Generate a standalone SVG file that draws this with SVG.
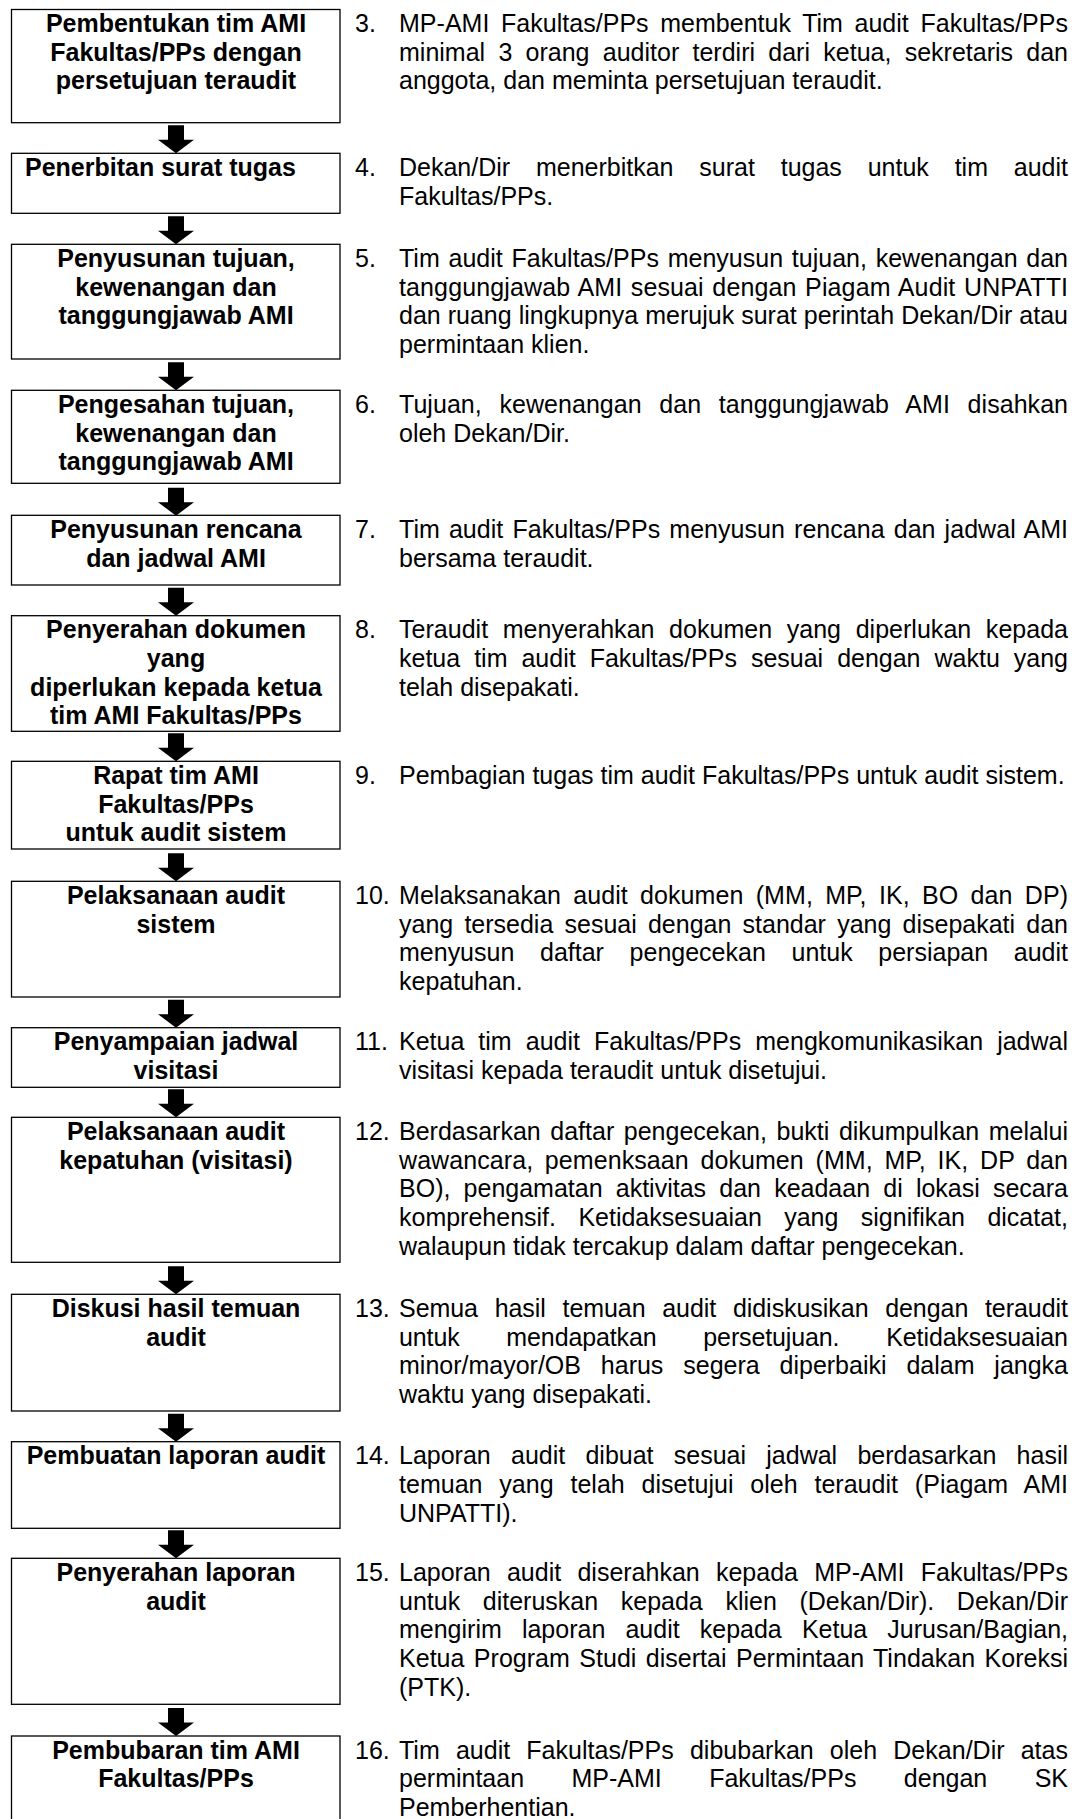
<svg xmlns="http://www.w3.org/2000/svg" xmlns:xlink="http://www.w3.org/1999/xlink" width="1075" height="1819" viewBox="0 0 1075 1819">
  <defs>
    <style>
      .box { fill: #fff; stroke: #000; stroke-width: 1.3; }
      .lbl { font-family: "Liberation Sans", Arial, sans-serif; font-size: 25px; font-weight: bold; text-anchor: middle; fill: #000; }
      .lbl-l { font-family: "Liberation Sans", Arial, sans-serif; font-size: 25px; font-weight: bold; fill: #000; }
      .num, .txt { font-family: "Liberation Sans", Arial, sans-serif; font-size: 25px; fill: #000; }
      .arrow { fill: #000; }
    </style>
    <!-- block arrow, origin at top centre of the shaft -->
    <path id="down-arrow" class="arrow" d="M-8,0 H8 V14.5 H18 L0,28 L-18,14.5 H-8 Z"/>
  </defs>

  <rect x="0" y="0" width="1075" height="1819" fill="#fff"/>

  <g id="connectors">
    <use xlink:href="#down-arrow" x="176" y="125.3"/>
    <use xlink:href="#down-arrow" x="176" y="216.3"/>
    <use xlink:href="#down-arrow" x="176" y="362.3"/>
    <use xlink:href="#down-arrow" x="176" y="487.7"/>
    <use xlink:href="#down-arrow" x="176" y="587.7"/>
    <use xlink:href="#down-arrow" x="176" y="733.3"/>
    <use xlink:href="#down-arrow" x="176" y="853.3"/>
    <use xlink:href="#down-arrow" x="176" y="999.7"/>
    <use xlink:href="#down-arrow" x="176" y="1089.3"/>
    <use xlink:href="#down-arrow" x="176" y="1266.3"/>
    <use xlink:href="#down-arrow" x="176" y="1413.7"/>
    <use xlink:href="#down-arrow" x="176" y="1530.3"/>
    <use xlink:href="#down-arrow" x="176" y="1708"/>
  </g>

  <g id="step-3">
    <rect class="box" x="11.5" y="9.5" width="328.5" height="113.2"/>
    <text class="lbl" x="176" y="32">Pembentukan tim AMI</text>
    <text class="lbl" x="176" y="60.7">Fakultas/PPs dengan</text>
    <text class="lbl" x="176" y="89.4">persetujuan teraudit</text>
    <text class="num" x="355" y="32">3.</text>
    <text class="txt" x="399" y="32" textLength="669" lengthAdjust="spacing" style="word-spacing:4.59px">MP-AMI Fakultas/PPs membentuk Tim audit Fakultas/PPs</text>
    <text class="txt" x="399" y="60.7" textLength="669" lengthAdjust="spacing" style="word-spacing:6.34px">minimal 3 orang auditor terdiri dari ketua, sekretaris dan</text>
    <text class="txt" x="399" y="89.4">anggota, dan meminta persetujuan teraudit.</text>
  </g>

  <g id="step-4">
    <rect class="box" x="11.5" y="153.3" width="328.5" height="60"/>
    <text class="lbl-l" x="25" y="175.8">Penerbitan surat tugas</text>
    <text class="num" x="355" y="175.8">4.</text>
    <text class="txt" x="399" y="175.8" textLength="669" lengthAdjust="spacing" style="word-spacing:18.87px">Dekan/Dir menerbitkan surat tugas untuk tim audit</text>
    <text class="txt" x="399" y="204.5">Fakultas/PPs.</text>
  </g>

  <g id="step-5">
    <rect class="box" x="11.5" y="244.3" width="328.5" height="114.7"/>
    <text class="lbl" x="176" y="266.8">Penyusunan tujuan,</text>
    <text class="lbl" x="176" y="295.5">kewenangan dan</text>
    <text class="lbl" x="176" y="324.2">tanggungjawab AMI</text>
    <text class="num" x="355" y="266.8">5.</text>
    <text class="txt" x="399" y="266.8" textLength="669" lengthAdjust="spacing" style="word-spacing:1.73px">Tim audit Fakultas/PPs menyusun tujuan, kewenangan dan</text>
    <text class="txt" x="399" y="295.5" textLength="669" lengthAdjust="spacing" style="word-spacing:1.5px">tanggungjawab AMI sesuai dengan Piagam Audit UNPATTI</text>
    <text class="txt" x="399" y="324.2" textLength="669" lengthAdjust="spacing" style="word-spacing:0.09px">dan ruang lingkupnya merujuk surat perintah Dekan/Dir atau</text>
    <text class="txt" x="399" y="352.9">permintaan klien.</text>
  </g>

  <g id="step-6">
    <rect class="box" x="11.5" y="390.3" width="328.5" height="93"/>
    <text class="lbl" x="176" y="412.8">Pengesahan tujuan,</text>
    <text class="lbl" x="176" y="441.5">kewenangan dan</text>
    <text class="lbl" x="176" y="470.2">tanggungjawab AMI</text>
    <text class="num" x="355" y="412.8">6.</text>
    <text class="txt" x="399" y="412.8" textLength="669" lengthAdjust="spacing" style="word-spacing:10.67px">Tujuan, kewenangan dan tanggungjawab AMI disahkan</text>
    <text class="txt" x="399" y="441.5">oleh Dekan/Dir.</text>
  </g>

  <g id="step-7">
    <rect class="box" x="11.5" y="515.3" width="328.5" height="69.7"/>
    <text class="lbl" x="176" y="537.8">Penyusunan rencana</text>
    <text class="lbl" x="176" y="566.5">dan jadwal AMI</text>
    <text class="num" x="355" y="537.8">7.</text>
    <text class="txt" x="399" y="537.8" textLength="669" lengthAdjust="spacing" style="word-spacing:2.08px">Tim audit Fakultas/PPs menyusun rencana dan jadwal AMI</text>
    <text class="txt" x="399" y="566.5">bersama teraudit.</text>
  </g>

  <g id="step-8">
    <rect class="box" x="11.5" y="615.7" width="328.5" height="115.6"/>
    <text class="lbl" x="176" y="638.2">Penyerahan dokumen</text>
    <text class="lbl" x="176" y="666.9">yang</text>
    <text class="lbl" x="176" y="695.6">diperlukan kepada ketua</text>
    <text class="lbl" x="176" y="724.3">tim AMI Fakultas/PPs</text>
    <text class="num" x="355" y="638.2">8.</text>
    <text class="txt" x="399" y="638.2" textLength="669" lengthAdjust="spacing" style="word-spacing:7.62px">Teraudit menyerahkan dokumen yang diperlukan kepada</text>
    <text class="txt" x="399" y="666.9" textLength="669" lengthAdjust="spacing" style="word-spacing:7.04px">ketua tim audit Fakultas/PPs sesuai dengan waktu yang</text>
    <text class="txt" x="399" y="695.6">telah disepakati.</text>
  </g>

  <g id="step-9">
    <rect class="box" x="11.5" y="761.3" width="328.5" height="87.7"/>
    <text class="lbl" x="176" y="783.8">Rapat tim AMI</text>
    <text class="lbl" x="176" y="812.5">Fakultas/PPs</text>
    <text class="lbl" x="176" y="841.2">untuk audit sistem</text>
    <text class="num" x="355" y="783.8">9.</text>
    <text class="txt" x="399" y="783.8">Pembagian tugas tim audit Fakultas/PPs untuk audit sistem.</text>
  </g>

  <g id="step-10">
    <rect class="box" x="11.5" y="881.3" width="328.5" height="115.7"/>
    <text class="lbl" x="176" y="903.8">Pelaksanaan audit</text>
    <text class="lbl" x="176" y="932.5">sistem</text>
    <text class="num" x="355" y="903.8">10.</text>
    <text class="txt" x="399" y="903.8" textLength="669" lengthAdjust="spacing" style="word-spacing:5.3px">Melaksanakan audit dokumen (MM, MP, IK, BO dan DP)</text>
    <text class="txt" x="399" y="932.5" textLength="669" lengthAdjust="spacing" style="word-spacing:4.25px">yang tersedia sesuai dengan standar yang disepakati dan</text>
    <text class="txt" x="399" y="961.2" textLength="669" lengthAdjust="spacing" style="word-spacing:18.74px">menyusun daftar pengecekan untuk persiapan audit</text>
    <text class="txt" x="399" y="989.9">kepatuhan.</text>
  </g>

  <g id="step-11">
    <rect class="box" x="11.5" y="1027.7" width="328.5" height="59.6"/>
    <text class="lbl" x="176" y="1050.2">Penyampaian jadwal</text>
    <text class="lbl" x="176" y="1078.9">visitasi</text>
    <text class="num" x="355" y="1050.2">11.</text>
    <text class="txt" x="399" y="1050.2" textLength="669" lengthAdjust="spacing" style="word-spacing:7.09px">Ketua tim audit Fakultas/PPs mengkomunikasikan jadwal</text>
    <text class="txt" x="399" y="1078.9">visitasi kepada teraudit untuk disetujui.</text>
  </g>

  <g id="step-12">
    <rect class="box" x="11.5" y="1117.3" width="328.5" height="145"/>
    <text class="lbl" x="176" y="1139.8">Pelaksanaan audit</text>
    <text class="lbl" x="176" y="1168.5">kepatuhan (visitasi)</text>
    <text class="num" x="355" y="1139.8">12.</text>
    <text class="txt" x="399" y="1139.8" textLength="669" lengthAdjust="spacing" style="word-spacing:2.63px">Berdasarkan daftar pengecekan, bukti dikumpulkan melalui</text>
    <text class="txt" x="399" y="1168.5" textLength="669" lengthAdjust="spacing" style="word-spacing:4.66px">wawancara, pemenksaan dokumen (MM, MP, IK, DP dan</text>
    <text class="txt" x="399" y="1197.2" textLength="669" lengthAdjust="spacing" style="word-spacing:6.24px">BO), pengamatan aktivitas dan keadaan di lokasi secara</text>
    <text class="txt" x="399" y="1225.9" textLength="669" lengthAdjust="spacing" style="word-spacing:15.45px">komprehensif. Ketidaksesuaian yang signifikan dicatat,</text>
    <text class="txt" x="399" y="1254.6">walaupun tidak tercakup dalam daftar pengecekan.</text>
  </g>

  <g id="step-13">
    <rect class="box" x="11.5" y="1294.3" width="328.5" height="116.7"/>
    <text class="lbl" x="176" y="1316.8">Diskusi hasil temuan</text>
    <text class="lbl" x="176" y="1345.5">audit</text>
    <text class="num" x="355" y="1316.8">13.</text>
    <text class="txt" x="399" y="1316.8" textLength="669" lengthAdjust="spacing" style="word-spacing:9.78px">Semua hasil temuan audit didiskusikan dengan teraudit</text>
    <text class="txt" x="399" y="1345.5" textLength="669" lengthAdjust="spacing" style="word-spacing:40.02px">untuk mendapatkan persetujuan. Ketidaksesuaian</text>
    <text class="txt" x="399" y="1374.2" textLength="669" lengthAdjust="spacing" style="word-spacing:12.92px">minor/mayor/OB harus segera diperbaiki dalam jangka</text>
    <text class="txt" x="399" y="1402.9">waktu yang disepakati.</text>
  </g>

  <g id="step-14">
    <rect class="box" x="11.5" y="1441.7" width="328.5" height="86.6"/>
    <text class="lbl" x="176" y="1464.2">Pembuatan laporan audit</text>
    <text class="num" x="355" y="1464.2">14.</text>
    <text class="txt" x="399" y="1464.2" textLength="669" lengthAdjust="spacing" style="word-spacing:13.3px">Laporan audit dibuat sesuai jadwal berdasarkan hasil</text>
    <text class="txt" x="399" y="1492.9" textLength="669" lengthAdjust="spacing" style="word-spacing:9.82px">temuan yang telah disetujui oleh teraudit (Piagam AMI</text>
    <text class="txt" x="399" y="1521.6">UNPATTI).</text>
  </g>

  <g id="step-15">
    <rect class="box" x="11.5" y="1558.3" width="328.5" height="146"/>
    <text class="lbl" x="176" y="1580.8">Penyerahan laporan</text>
    <text class="lbl" x="176" y="1609.5">audit</text>
    <text class="num" x="355" y="1580.8">15.</text>
    <text class="txt" x="399" y="1580.8" textLength="669" lengthAdjust="spacing" style="word-spacing:9.3px">Laporan audit diserahkan kepada MP-AMI Fakultas/PPs</text>
    <text class="txt" x="399" y="1609.5" textLength="669" lengthAdjust="spacing" style="word-spacing:15.7px">untuk diteruskan kepada klien (Dekan/Dir). Dekan/Dir</text>
    <text class="txt" x="399" y="1638.2" textLength="669" lengthAdjust="spacing" style="word-spacing:13.18px">mengirim laporan audit kepada Ketua Jurusan/Bagian,</text>
    <text class="txt" x="399" y="1666.9" textLength="669" lengthAdjust="spacing" style="word-spacing:2.43px">Ketua Program Studi disertai Permintaan Tindakan Koreksi</text>
    <text class="txt" x="399" y="1695.6">(PTK).</text>
  </g>

  <g id="step-16">
    <rect class="box" x="11.5" y="1736" width="328.5" height="100"/>
    <text class="lbl" x="176" y="1758.5">Pembubaran tim AMI</text>
    <text class="lbl" x="176" y="1787.2">Fakultas/PPs</text>
    <text class="num" x="355" y="1758.5">16.</text>
    <text class="txt" x="399" y="1758.5" textLength="669" lengthAdjust="spacing" style="word-spacing:9.15px">Tim audit Fakultas/PPs dibubarkan oleh Dekan/Dir atas</text>
    <text class="txt" x="399" y="1787.2" textLength="669" lengthAdjust="spacing" style="word-spacing:40.46px">permintaan MP-AMI Fakultas/PPs dengan SK</text>
    <text class="txt" x="399" y="1815.9">Pemberhentian.</text>
  </g>
</svg>
